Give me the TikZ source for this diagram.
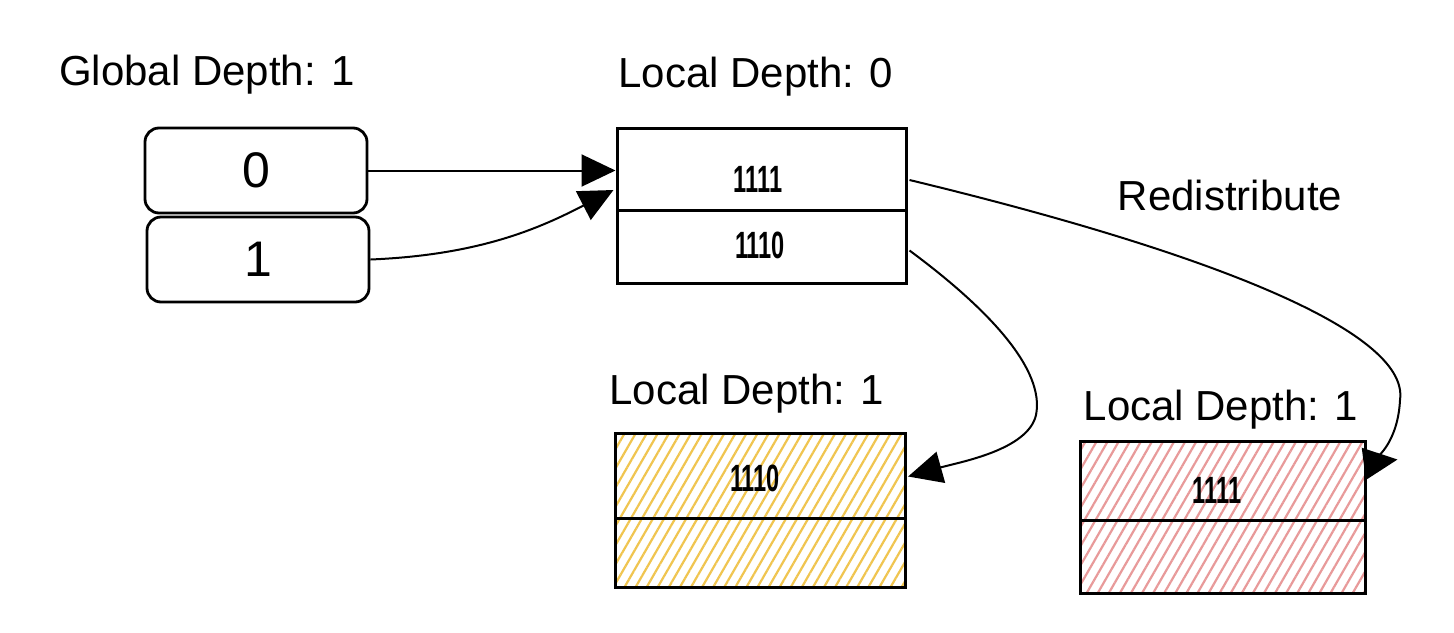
\documentclass[tikz,border=0pt]{standalone}
\usepackage{fontspec}
\usepackage{graphicx}
\setmainfont{Liberation Sans}
\newcommand{\narrownum}[1]{\scalebox{0.62}[1]{\bfseries #1}}
\usetikzlibrary{arrows.meta,patterns.meta,calc}
\definecolor{hatchyellow}{HTML}{F0C550}
\definecolor{hatchred}{HTML}{E89A9A}
\begin{document}
\begin{tikzpicture}[x=0.5pt,y=-0.5pt,
  lbl/.style={anchor=base, font=\fontsize{21}{25}\selectfont, inner sep=0pt},
  keybox/.style={draw, line width=1.4pt, rounded corners=7pt, minimum width=111pt,
    minimum height=42.5pt, inner sep=0pt, font=\fontsize{25}{30}\selectfont},
  cell/.style={draw, line width=1.5pt, inner sep=0pt},
  celltext/.style={inner sep=0pt, font=\fontsize{19}{23}\selectfont},
  yfill/.style={pattern={Lines[angle=60,distance=4.8pt,line width=1.1pt]}, pattern color=hatchyellow},
  rfill/.style={pattern={Lines[angle=60,distance=4.8pt,line width=1.1pt]}, pattern color=hatchred},
  arr/.style={line width=1pt, -{Triangle[length=17pt,width=16pt]}}
]
\useasboundingbox[fill=white] (0,0) rectangle (1454,632);

% labels
\node[lbl] (gd) at (207,85) {Global Depth: 1};
\node[lbl] (ld0) at (756,87) {Local Depth: 0};
\node[lbl] (redis) at (1230,210) {Redistribute};
\node[lbl] (ld1y) at (747,404) {Local Depth: 1};
\node[lbl] (ld1r) at (1221,420) {Local Depth: 1};

% directory
\node[keybox] (g0) at (256,170.5) {0};
\node[keybox] (g1) at (258,259.5) {1};

% original bucket
\node[cell, minimum width=144.5pt, minimum height=41pt] (b0top) at (761.5,169) {};
\node[cell, minimum width=144.5pt, minimum height=36.5pt] (b0bot) at (761.5,246.5) {};
\node[celltext] (t0a) at (758,179) {\narrownum{1111}};
\node[celltext] (t0b) at (760,245) {\narrownum{1110}};

% yellow bucket
\node[cell, yfill, minimum width=145pt, minimum height=42.5pt] (ytop) at (760,475.5) {};
\node[cell, yfill, minimum width=145pt, minimum height=34.5pt] (ybot) at (760,552.5) {};
\node[celltext] (ty) at (755,478) {\narrownum{1110}};

% red bucket
\node[cell, rfill, minimum width=142.5pt, minimum height=39.5pt] (rtop) at (1222.5,480.5) {};
\node[cell, rfill, minimum width=142.5pt, minimum height=36.5pt] (rbot) at (1222.5,556.5) {};
\node[celltext] (tr) at (1217,490) {\narrownum{1111}};

% connectors
\draw[arr] (g0.east) -- (b0top.west |- g0.east);
\draw[arr] (g1.east) .. controls (480,255) and (540,228) .. ($(b0top.west)+(-2,21)$);
\draw[arr] ($(b0top.east)+(2,11)$) .. controls (1200,250) and (1410,330) .. (1400,400)
  .. controls (1398,440) and (1378,462) .. ($(rtop.east)+(31,-21)$);
\draw[arr] ($(b0bot.east)+(2,4)$) .. controls (990,310) and (1045,370) .. (1036,415)
  .. controls (1028,450) and (960,462) .. ($(ytop.east)+(2,1)$);
\end{tikzpicture}
\end{document}
